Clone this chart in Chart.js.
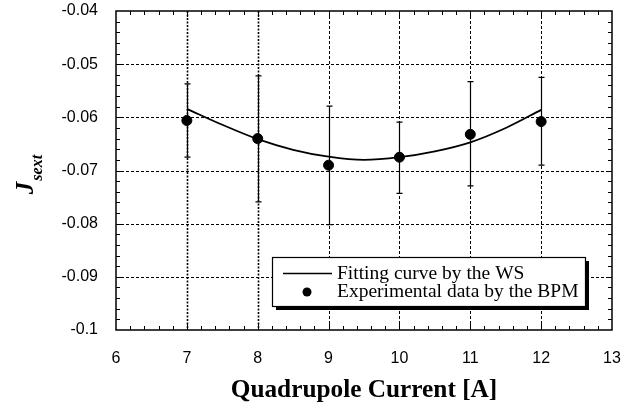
<!DOCTYPE html>
<html><head><meta charset="utf-8">
<script src="https://cdn.jsdelivr.net/npm/chart.js@4"></script>
<style>html,body{margin:0;padding:0;background:#fff}#wrap{width:642px;height:406px}</style>
</head><body><div id="wrap"><canvas id="c" width="642" height="406"></canvas></div>
<script>
const currents = [7, 8, 9, 10, 11, 12];
const jsext = [-0.0606, -0.0640, -0.0690, -0.0675, -0.0632, -0.0608];
const errPlus = [0.0069, 0.0118, 0.0111, 0.0066, 0.0099, 0.0083];
const errMinus = [0.0069, 0.0119, 0.0112, 0.0068, 0.0097, 0.0082];
const fitX = [7, 7.5, 8, 8.5, 9, 9.5, 10, 10.5, 11, 11.5, 12];
const fitY = [-0.0584, -0.0614, -0.0641, -0.0661, -0.0674, -0.0680, -0.0675, -0.0664, -0.0647, -0.0620, -0.0586];
const legendLabels = ['Fitting curve by the WS', 'Experimental data by the BPM'];
const xTitle = 'Quadrupole Current [A]';

const PLOT_TOP = 11;

const framePlugin = {
  id: 'frame',
  afterLayout(chart) {
    const y = chart.scales.y;
    chart.chartArea.top = PLOT_TOP;
    chart.chartArea.height = chart.chartArea.bottom - PLOT_TOP;
    y.top = PLOT_TOP;
    y.height = y.bottom - y.top;
    y.configure();
    y._labelItems = null;
    y._gridLineItems = null;
    chart.scales.x._gridLineItems = null;
  },
  beforeDatasetsDraw(chart) {
    const {ctx, chartArea: a, scales: {x, y}} = chart;
    ctx.save();
    ctx.strokeStyle = '#000';
    for (let v = 7; v <= 12; v++) {
      const px = Math.round(x.getPixelForValue(v)) + 0.5;
      ctx.setLineDash(v <= 8 ? [2, 1.5] : [3, 2]);
      ctx.lineWidth = v <= 8 ? 1.6 : 1;
      ctx.beginPath(); ctx.moveTo(px, a.top); ctx.lineTo(px, a.bottom); ctx.stroke();
    }
    ctx.lineWidth = 1;
    ctx.setLineDash([3, 2]);
    for (let i = 1; i <= 5; i++) {
      const v = -0.1 + i * 0.01;
      const py = Math.round(y.getPixelForValue(v)) + 0.5;
      ctx.beginPath(); ctx.moveTo(a.left, py); ctx.lineTo(a.right, py); ctx.stroke();
    }
    ctx.setLineDash([]);
    ctx.lineWidth = 1;
    for (let i = 1; i < 35; i++) {
      const px = Math.round(x.getPixelForValue(6 + i * 0.2)) + 0.5;
      const len = (i % 5 === 0) ? 6 : 4;
      ctx.beginPath();
      ctx.moveTo(px, a.bottom); ctx.lineTo(px, a.bottom - len);
      ctx.moveTo(px, a.top); ctx.lineTo(px, a.top + len);
      ctx.stroke();
    }
    for (let i = 1; i < 30; i++) {
      const py = Math.round(y.getPixelForValue(-0.1 + i * 0.002)) + 0.5;
      const len = (i % 5 === 0) ? 6 : 4;
      ctx.beginPath();
      ctx.moveTo(a.left, py); ctx.lineTo(a.left + len, py);
      ctx.moveTo(a.right, py); ctx.lineTo(a.right - len, py);
      ctx.stroke();
    }
    ctx.lineWidth = 1.5;
    ctx.strokeRect(a.left, a.top, a.right - a.left, a.bottom - a.top);
    ctx.lineWidth = 1.2;
    currents.forEach((c, i) => {
      const px = Math.round(x.getPixelForValue(c)) + 0.5;
      const yt = y.getPixelForValue(jsext[i] + errPlus[i]);
      const yb = y.getPixelForValue(jsext[i] - errMinus[i]);
      ctx.beginPath();
      ctx.moveTo(px, yt); ctx.lineTo(px, yb);
      ctx.moveTo(px - 3, yt); ctx.lineTo(px + 3, yt);
      ctx.moveTo(px - 3, yb); ctx.lineTo(px + 3, yb);
      ctx.stroke();
    });
    ctx.restore();
  },
  afterDraw(chart) {
    const {ctx, chartArea: a} = chart;
    ctx.save();
    const bx = 272, by = 257, bw = 313, bh = 49;
    ctx.fillStyle = '#000';
    ctx.fillRect(bx + 4, by + 4, bw, bh);
    ctx.fillStyle = '#fff';
    ctx.fillRect(bx, by, bw, bh);
    ctx.strokeStyle = '#000';
    ctx.lineWidth = 1.2;
    ctx.strokeRect(bx + 0.5, by + 0.5, bw, bh);
    ctx.lineWidth = 1.5;
    ctx.beginPath(); ctx.moveTo(283, 273.5); ctx.lineTo(332, 273.5); ctx.stroke();
    ctx.fillStyle = '#000';
    ctx.beginPath(); ctx.arc(307, 292, 4.5, 0, Math.PI * 2); ctx.fill();
    ctx.font = '19.5px "Liberation Serif", serif';
    ctx.textBaseline = 'middle';
    ctx.textAlign = 'left';
    ctx.fillText(legendLabels[0], 337, 274);
    ctx.fillText(legendLabels[1], 337, 292);
    ctx.font = 'bold 25.3px "Liberation Serif", serif';
    ctx.textAlign = 'center';
    ctx.fillText(xTitle, (a.left + a.right) / 2, 390);
    ctx.translate(33, 175);
    ctx.rotate(-Math.PI / 2);
    ctx.textAlign = 'left';
    ctx.textBaseline = 'alphabetic';
    ctx.font = 'bold italic 25px "Liberation Serif", serif';
    const wJ = ctx.measureText('J').width;
    ctx.font = 'bold italic 16px "Liberation Serif", serif';
    const wS = ctx.measureText('sext').width;
    const start = -(wJ + wS) / 2;
    ctx.font = 'bold italic 25px "Liberation Serif", serif';
    ctx.fillText('J', start, 0);
    ctx.font = 'bold italic 16px "Liberation Serif", serif';
    ctx.fillText('sext', start + wJ + 1, 9);
    ctx.restore();
  }
};

new Chart(document.getElementById('c'), {
  type: 'scatter',
  data: {
    datasets: [
      {
        type: 'line',
        data: fitX.map((v, i) => ({x: v, y: fitY[i]})),
        borderColor: '#000', borderWidth: 1.8, pointRadius: 0,
        cubicInterpolationMode: 'monotone', fill: false
      },
      {
        data: currents.map((v, i) => ({x: v, y: jsext[i]})),
        backgroundColor: '#000', borderColor: '#000', pointRadius: 5, pointHoverRadius: 5
      }
    ]
  },
  options: {
    responsive: false, animation: false, devicePixelRatio: 1,
    layout: {autoPadding: false, padding: {top: 0, right: 30, left: 0, bottom: 0}},
    plugins: {legend: {display: false}, tooltip: {enabled: false}},
    scales: {
      x: {
        type: 'linear', min: 6, max: 13,
        grid: {display: false, drawTicks: false}, border: {display: false},
        ticks: {stepSize: 1, color: '#000', padding: 19, font: {family: '"Liberation Sans", Arial', size: 16}},
        afterFit: s => { s.height = 76; }
      },
      y: {
        min: -0.1, max: -0.04,
        grid: {display: false, drawTicks: false}, border: {display: false},
        ticks: {stepSize: 0.01, color: '#000', padding: 18, font: {family: '"Liberation Sans", Arial', size: 16},
          callback: v => String(parseFloat(v.toFixed(3)))},
        afterFit: s => { s.width = 116; }
      }
    }
  },
  plugins: [framePlugin]
});
</script></body></html>
